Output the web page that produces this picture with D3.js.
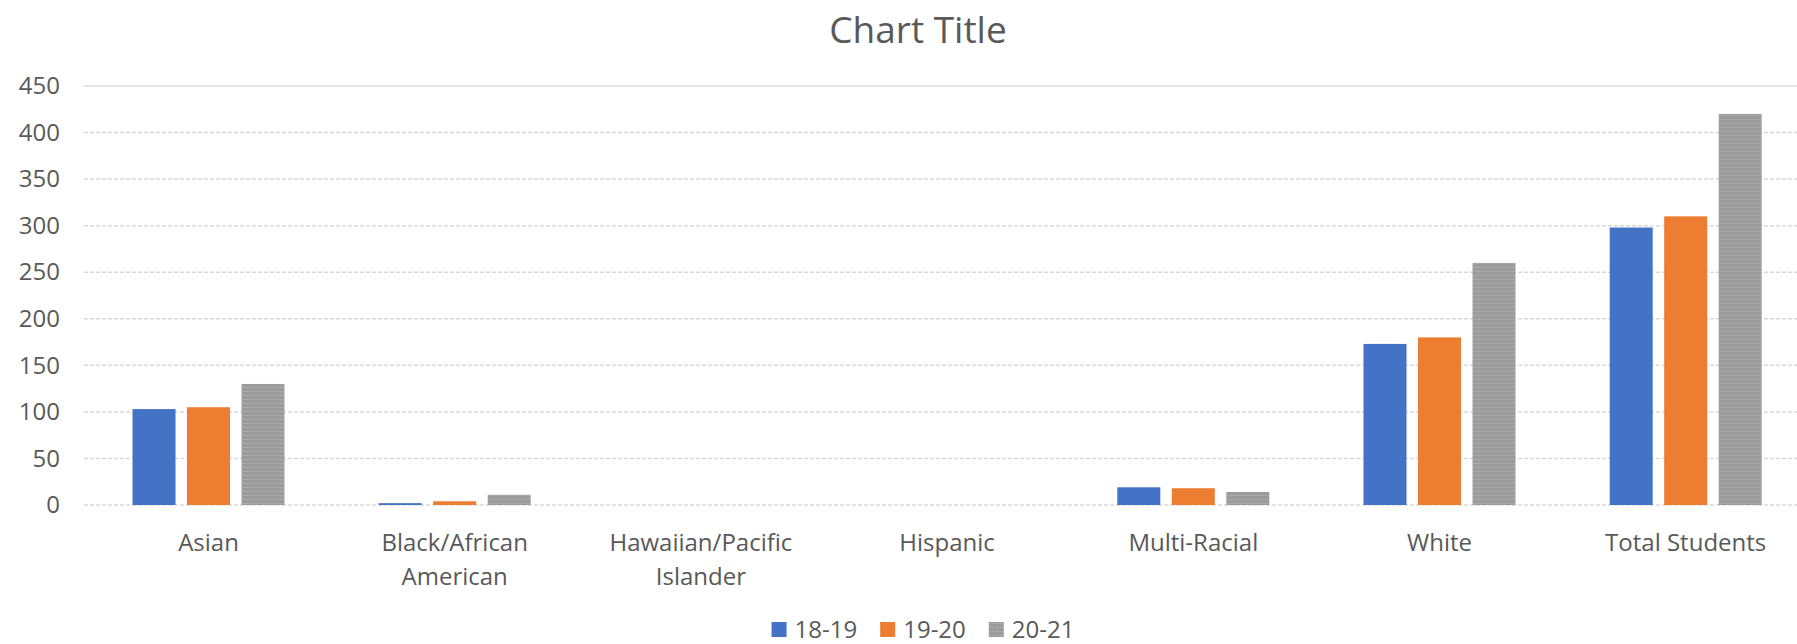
<!DOCTYPE html>
<html>
<head>
<meta charset="utf-8">
<script src="https://cdn.jsdelivr.net/npm/d3@7"></script>
<style>
  html, body { margin: 0; padding: 0; background: #fff; }
  svg { display: block; font-family: "Open Sans", sans-serif; }
</style>
</head>
<body>
<div id="chart"></div>
<script>
const categories = [
  ["Asian"],
  ["Black/African", "American"],
  ["Hawaiian/Pacific", "Islander"],
  ["Hispanic"],
  ["Multi-Racial"],
  ["White"],
  ["Total Students"]
];
const seriesNames = ["18-19", "19-20", "20-21"];
const v1819 = [103, 2, 0, 0, 19, 173, 298];
const v1920 = [105, 4, 0, 0, 18, 180, 310];
const v2021 = [130, 11, 0, 0, 14, 260, 420];
const yTicks = [0, 50, 100, 150, 200, 250, 300, 350, 400, 450];

const W = 1797, H = 644;
const colors = ["#4472C4", "#ED7D31", "url(#grayTex)"];
const legendColors = ["#4472C4", "#ED7D31", "url(#grayTex)"];
const series = [v1819, v1920, v2021];

const svg = d3.select("#chart").append("svg").attr("width", W).attr("height", H);
svg.append("rect").attr("width", W).attr("height", H).attr("fill", "#fff");

// textured gray fill
const pat = svg.append("defs").append("pattern")
  .attr("id", "grayTex").attr("patternUnits", "userSpaceOnUse")
  .attr("width", 4).attr("height", 4);
pat.append("rect").attr("width", 4).attr("height", 4).attr("fill", "#a9a9a9");
[[0,0],[1,1],[2,2],[3,1],[0,2],[2,0]].forEach(([px, py]) => {
  pat.append("rect").attr("x", px).attr("y", py).attr("width", 1).attr("height", 1).attr("fill", "#8e8e8e");
});

const keys = categories.map(c => c.join(" "));
const x0 = d3.scaleBand().domain(keys).range([85.4, 1808.8]).padding(0);
const groupW = 152;
const x1 = d3.scaleBand().domain(seriesNames)
  .range([(x0.bandwidth() - groupW) / 2, (x0.bandwidth() + groupW) / 2])
  .paddingInner(0.211).paddingOuter(0);
const y = d3.scaleLinear().domain([0, 450]).range([505, 86]);

// Grid lines
yTicks.forEach(t => {
  svg.append("line")
    .attr("x1", 84).attr("x2", W).attr("y1", y(t)).attr("y2", y(t))
    .attr("stroke", "#d9d9d9").attr("stroke-width", 1.5)
    .attr("stroke-dasharray", t === 450 ? null : "4,2");
});

// Y axis labels
const yAxis = d3.axisLeft(y).tickValues(yTicks).tickSize(0).tickPadding(0);
const gy = svg.append("g").attr("transform", "translate(60,0)").call(yAxis);
gy.select(".domain").remove();
gy.selectAll("text").attr("font-size", "24px").attr("fill", "#595959")
  .attr("font-family", "Open Sans, sans-serif");

// Bars
const groups = svg.append("g").selectAll("g").data(keys).join("g")
  .attr("transform", d => `translate(${x0(d)},0)`);
groups.selectAll("rect")
  .data((d, i) => seriesNames.map((s, j) => ({ s, j, v: series[j][i] })))
  .join("rect")
  .attr("x", d => x1(d.s))
  .attr("width", x1.bandwidth())
  .attr("y", d => y(d.v))
  .attr("height", d => y(0) - y(d.v))
  .attr("fill", d => colors[d.j]);

// X labels
categories.forEach((lines, i) => {
  const cx = x0(keys[i]) + x0.bandwidth() / 2;
  const t = svg.append("text").attr("x", cx).attr("y", 551)
    .attr("text-anchor", "middle").attr("font-size", "24px").attr("fill", "#595959");
  lines.forEach((ln, k) => {
    t.append("tspan").attr("x", cx).attr("dy", k === 0 ? 0 : 34).text(ln);
  });
});

// Title
svg.append("text").attr("x", 918).attr("y", 43).attr("text-anchor", "middle")
  .attr("font-size", "37px").attr("fill", "#595959").text("Chart Title");

// Legend
const lg = svg.append("g");
let lx = 0;
seriesNames.forEach((s, j) => {
  const item = lg.append("g").attr("transform", `translate(${lx},0)`);
  item.append("rect").attr("x", 0).attr("y", 622).attr("width", 15).attr("height", 15)
    .attr("fill", legendColors[j]);
  const tx = item.append("text").attr("x", 23).attr("y", 638)
    .attr("font-size", "24px").attr("fill", "#595959").text(s);
  lx += 23 + tx.node().getComputedTextLength() + 23;
});
const totalW = lx - 23;
lg.attr("transform", `translate(${923 - totalW / 2},0)`);
</script>
</body>
</html>
